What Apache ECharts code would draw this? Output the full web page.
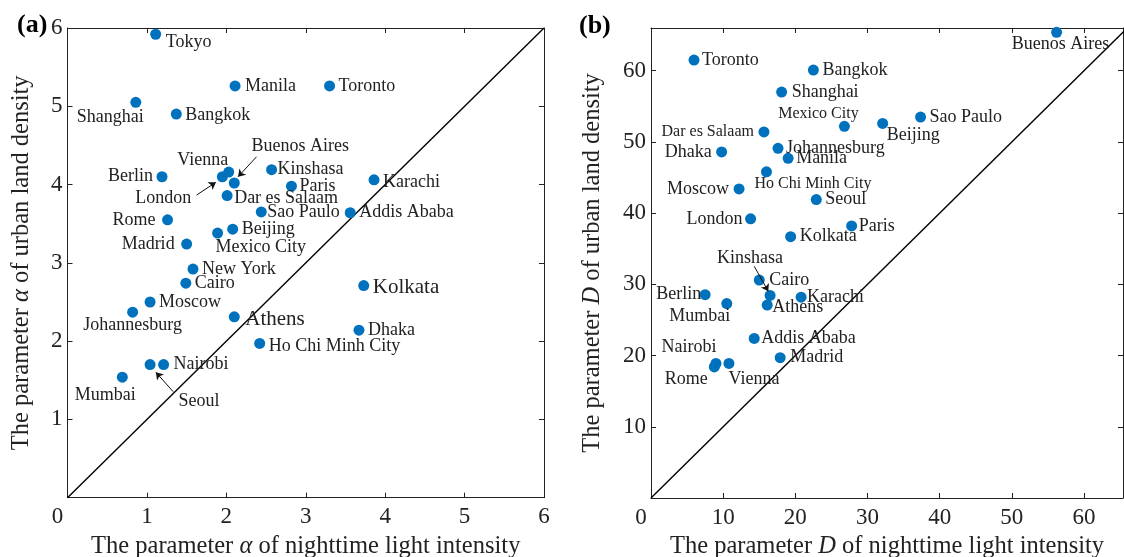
<!DOCTYPE html>
<html lang="en">
<head>
<meta charset="UTF-8">
<title>Urban land density vs nighttime light intensity</title>
<script src="https://cdn.jsdelivr.net/npm/echarts@6/dist/echarts.min.js"></script>
<style>
  html, body { margin: 0; padding: 0; background: #fff; }
  #chart { width: 1124px; height: 557px; }
</style>
</head>
<body>
<div id="chart"></div>
<script>
// (a) parameter alpha
const citiesA = ['Tokyo', 'Manila', 'Toronto', 'Shanghai', 'Bangkok', 'Vienna', 'London', 'Buenos Aires',
  'Berlin', 'Kinshasa', 'Paris', 'Karachi', 'Dar es Salaam', 'Rome', 'Sao Paulo', 'Addis Ababa', 'Beijing',
  'Mexico City', 'Madrid', 'New York', 'Cairo', 'Kolkata', 'Moscow', 'Johannesburg', 'Athens', 'Dhaka',
  'Ho Chi Minh City', 'Seoul', 'Nairobi', 'Mumbai'];
const alphaLight = [1.11, 2.11, 3.30, 0.86, 1.37, 2.03, 1.95, 2.10, 1.19, 2.57, 2.82, 3.86, 2.01, 1.26, 2.44,
  3.56, 2.08, 1.89, 1.50, 1.58, 1.49, 3.73, 1.04, 0.82, 2.10, 3.67, 2.42, 1.04, 1.21, 0.69];
const alphaUrban = [5.92, 5.26, 5.26, 5.05, 4.90, 4.16, 4.10, 4.02, 4.10, 4.19, 3.98, 4.06, 3.86, 3.55, 3.65,
  3.64, 3.43, 3.38, 3.24, 2.92, 2.74, 2.71, 2.50, 2.37, 2.31, 2.14, 1.97, 1.70, 1.70, 1.54];
const ticksA = [0, 1, 2, 3, 4, 5, 6];

// (b) parameter D
const citiesB = ['Buenos Aires', 'Toronto', 'Bangkok', 'Shanghai', 'Sao Paulo', 'Beijing', 'Mexico City',
  'Dar es Salaam', 'Johannesburg', 'Dhaka', 'Manila', 'Ho Chi Minh City', 'Moscow', 'Seoul', 'London', 'Paris',
  'Kolkata', 'Cairo', 'Berlin', 'Kinshasa', 'Karachi', 'Mumbai', 'Athens', 'Addis Ababa', 'Madrid', 'Vienna',
  'Nairobi', 'Rome'];
const dLight = [56.2, 5.96, 22.5, 18.1, 37.35, 32.1, 26.8, 15.65, 17.6, 9.79, 19.0, 16.0, 12.2, 22.9, 13.8,
  27.8, 19.35, 15.0, 7.5, 16.5, 20.8, 10.5, 16.1, 14.3, 17.9, 10.8, 9.0, 8.77];
const dUrban = [65.4, 61.5, 60.1, 57.0, 53.5, 52.6, 52.2, 51.4, 49.1, 48.6, 47.7, 45.8, 43.4, 41.9, 39.2,
  38.2, 36.7, 30.6, 28.55, 28.45, 28.2, 27.3, 27.1, 22.4, 19.7, 18.9, 18.9, 18.4];
const ticksB = [0, 10, 20, 30, 40, 50, 60];

// label placement: [dx, dy, align, fontSize]
const placeA = {
  'Tokyo': [10, 8, 'left'], 'Manila': [10, 0, 'left'], 'Toronto': [9, 0, 'left'],
  'Shanghai': [8, 15, 'right'], 'Bangkok': [9, 1, 'left'], 'Berlin': [-9, 0, 'right'],
  'Vienna': [-26, -12, 'center'], 'London': [-59, 22, 'center'], 'Buenos Aires': [66, -37, 'center'],
  'Kinshasa': [6, 0, 'left'], 'Paris': [8, 0, 'left'], 'Karachi': [9, 2, 'left'],
  'Dar es Salaam': [7, 3, 'left'], 'Rome': [-12, 0, 'right'], 'Sao Paulo': [6, 0, 'left'],
  'Addis Ababa': [9, 0, 'left'], 'Madrid': [-12, 0, 'right'], 'Beijing': [9, 0, 'left'],
  'Mexico City': [-2, 14, 'left'], 'New York': [9, 0, 'left'], 'Cairo': [9, 0, 'left'],
  'Moscow': [9, 0, 'left'], 'Johannesburg': [0, 13, 'center'], 'Athens': [11, 3, 'left', 21],
  'Ho Chi Minh City': [9, 3, 'left'], 'Nairobi': [10, 0, 'left'], 'Seoul': [49, 37, 'center'],
  'Mumbai': [-17, 18, 'center'], 'Kolkata': [9, 2, 'left', 21], 'Dhaka': [9, 0, 'left']
};
const placeB = {
  'Toronto': [8, 0, 'left'], 'Bangkok': [9, 0, 'left'], 'Shanghai': [10, 0, 'left'],
  'Mexico City': [-26, -12, 'center', 16], 'Dar es Salaam': [-10, 0, 'right', 16], 'Dhaka': [-10, 0, 'right'],
  'Johannesburg': [8, 0, 'left'], 'Manila': [8, 0, 'left'], 'Ho Chi Minh City': [-12, 12, 'left', 16],
  'Moscow': [-10, 0, 'right'], 'Seoul': [9, 0, 'left'], 'London': [-8, 0, 'right'],
  'Kolkata': [9, 0, 'left'], 'Paris': [7, 0, 'left'], 'Buenos Aires': [4, 12, 'center'],
  'Beijing': [4, 12, 'left'], 'Sao Paulo': [9, 0, 'left'], 'Kinshasa': [-20, -37, 'center'],
  'Cairo': [10, 0, 'left'], 'Athens': [5, 2, 'left'], 'Berlin': [-4, 0, 'right'],
  'Mumbai': [-27, 13, 'center'], 'Karachi': [6, 0, 'left'], 'Addis Ababa': [7, 0, 'left'],
  'Madrid': [10, 0, 'left'], 'Nairobi': [-27, -16, 'center'], 'Rome': [-28, 12, 'center'],
  'Vienna': [25, 16, 'center']
};

// pointer arrows (data units)
const arrowsA = [
  { from: [1.625, 3.866], to: [1.868, 4.028] },
  { from: [2.38, 4.355], to: [2.148, 4.10] },
  { from: [1.331, 1.354], to: [1.113, 1.602] }
];
const arrowsB = [
  { from: [14.31, 32.53], to: [16.25, 29.02] }
];

const SERIF = '"Liberation Serif", "Times New Roman", serif';
const INK = '#222';
const BLUE = '#0072BD';

function pointLabel(p) {
  return {
    show: true, formatter: '{b}', position: ['50%', '50%'], offset: [p[0], p[1]], align: p[2],
    verticalAlign: 'middle', fontFamily: SERIF, fontSize: p[3] || 18, color: INK
  };
}

function points(names, xs, ys, place) {
  return names.map((c, i) => ({ name: c, value: [xs[i], ys[i]], label: pointLabel(place[c]) }));
}

function axisPair(gridIndex, max, interval, ticks, xName, yName, yGap) {
  const lbl = {
    fontFamily: SERIF, fontSize: 23, color: INK, margin: 8,
    rich: { z: { fontFamily: SERIF, fontSize: 23, color: INK, padding: [0, 20, 0, 0] } }
  };
  const ylbl = Object.assign({}, lbl, { margin: 5 });
  const line = { show: true, onZero: false, lineStyle: { color: INK, width: 1 } };
  const tick = { show: true, inside: true, length: 5, lineStyle: { color: INK } };
  const nameStyle = {
    fontFamily: SERIF, fontSize: 24.5, color: INK,
    rich: { i: { fontFamily: SERIF, fontSize: 24.5, color: INK, fontStyle: 'italic' } }
  };
  const base = { gridIndex, type: 'value', min: 0, interval, splitLine: { show: false }, axisLine: line, axisTick: tick };
  return {
    x: [
      Object.assign({}, base, {
        position: 'bottom', max: max[0], name: xName, nameLocation: 'middle', nameGap: 34, nameTextStyle: nameStyle,
        axisLabel: Object.assign({}, lbl, {
          showMaxLabel: ticks.includes(max[0]),
          formatter: v => v === 0 ? '{z|0}' : (ticks.includes(v) ? String(v) : '')
        })
      }),
      Object.assign({}, base, { position: 'top', max: max[0], axisLabel: { show: false } })
    ],
    y: [
      Object.assign({}, base, {
        position: 'left', max: max[1], name: yName, nameLocation: 'middle', nameGap: yGap, nameTextStyle: nameStyle,
        axisLabel: Object.assign({}, ylbl, {
          showMinLabel: false, showMaxLabel: ticks.includes(max[1]),
          formatter: v => ticks.includes(v) ? String(v) : ''
        })
      }),
      Object.assign({}, base, { position: 'right', max: max[1], axisLabel: { show: false } })
    ]
  };
}

const maxA = [6, 6];
const maxB = [65.4, 66];
const axA = axisPair(0, maxA, 1, ticksA,
  'The parameter {i|α} of nighttime light intensity', 'The parameter {i|α} of urban land density', 33);
const axB = axisPair(1, maxB, 10, ticksB,
  'The parameter {i|D} of nighttime light intensity', 'The parameter {i|D} of urban land density', 46);

function arrowMarks(list) {
  return {
    silent: true, symbol: ['none', 'arrow'], symbolSize: 7, precision: 4,
    lineStyle: { color: '#111', width: 1, type: 'solid' }, label: { show: false },
    emphasis: { disabled: true },
    data: list.map(a => [{ coord: a.from }, { coord: a.to }])
  };
}

function diagonal(xi, yi, m) {
  return {
    type: 'line', xAxisIndex: xi, yAxisIndex: yi, data: [[0, 0], [m, m]], symbol: 'none', silent: true,
    clip: true, lineStyle: { color: '#000', width: 1.4 }, z: 1
  };
}

function scatter(xi, yi, data, arrows) {
  return {
    type: 'scatter', xAxisIndex: xi, yAxisIndex: yi, data, symbolSize: 11, silent: true, z: 3,
    itemStyle: { color: BLUE, opacity: 1 }, emphasis: { disabled: true },
    markLine: arrowMarks(arrows)
  };
}

const chart = echarts.init(document.getElementById('chart'), null, { renderer: 'canvas' });
chart.setOption({
  animation: false,
  backgroundColor: '#fff',
  title: [
    { text: '(a)', left: 12, top: 7, textStyle: { fontFamily: SERIF, fontSize: 26, fontWeight: 'bold', color: '#000' } },
    { text: '(b)', left: 574, top: 8, textStyle: { fontFamily: SERIF, fontSize: 26, fontWeight: 'bold', color: '#000' } }
  ],
  grid: [
    { left: 67.5, top: 28, width: 476.5, height: 469.7, outerBoundsMode: 'none', containLabel: false },
    { left: 651, top: 28, width: 472, height: 470, outerBoundsMode: 'none', containLabel: false }
  ],
  xAxis: axA.x.concat(axB.x.map(a => Object.assign(a, { gridIndex: 1 }))),
  yAxis: axA.y.concat(axB.y.map(a => Object.assign(a, { gridIndex: 1 }))),
  series: [
    diagonal(0, 0, maxA[0]),
    scatter(0, 0, points(citiesA, alphaLight, alphaUrban, placeA), arrowsA),
    diagonal(2, 2, maxB[1]),
    scatter(2, 2, points(citiesB, dLight, dUrban, placeB), arrowsB)
  ]
});
</script>
</body>
</html>
